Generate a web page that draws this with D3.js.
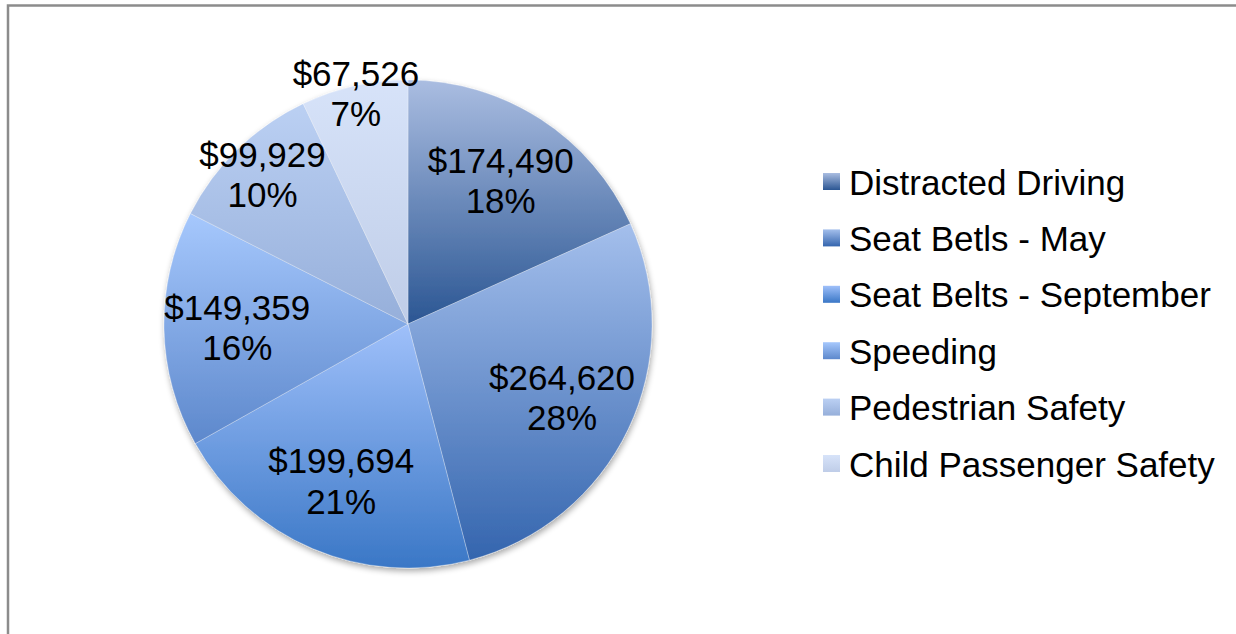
<!DOCTYPE html>
<html><head><meta charset="utf-8">
<script src="https://cdn.jsdelivr.net/npm/d3@7"></script>
<style>html,body{margin:0;padding:0;background:#fff;}svg{display:block;}</style>
</head><body>
<svg id="c" width="1236" height="634"></svg>
<script>
const categories = ["Distracted Driving","Seat Betls - May","Seat Belts - September","Speeding","Pedestrian Safety","Child Passenger Safety"];
const values = [174490, 264620, 199694, 149359, 99929, 67526];
const percentLabels = ["18%","28%","21%","16%","10%","7%"];
const topColors = ["#aabde1","#a4bfec","#9fc0fa","#a6c8fd","#bbd0f3","#d7e3f9"];
const bottomColors = ["#2b5693","#3465ae","#3a77c6","#5d88cc","#96afda","#bfcde8"];

const svg = d3.select("#c");
const cx = 408, cy = 324, R = 244;
const fontFam = "'Liberation Sans', Arial, sans-serif";

// border
svg.append("path").attr("d", `M8,634 L8,5.5 L1236,5.5`).attr("fill","none").attr("stroke","#8c8c8c").attr("stroke-width",2.5);

const defs = svg.append("defs");
const shadow = defs.append("filter").attr("id","sh").attr("x","-10%").attr("y","-10%").attr("width","120%").attr("height","125%");
shadow.append("feGaussianBlur").attr("in","SourceAlpha").attr("stdDeviation",3).attr("result","b");
shadow.append("feOffset").attr("in","b").attr("dx",1).attr("dy",3).attr("result","o");
shadow.append("feComponentTransfer").attr("in","o").attr("result","o2").append("feFuncA").attr("type","linear").attr("slope",0.35);
const m = shadow.append("feMerge"); m.append("feMergeNode").attr("in","o2"); m.append("feMergeNode").attr("in","SourceGraphic");

categories.forEach((c,i)=>{
  const g = defs.append("linearGradient").attr("id","g"+i).attr("x1",0).attr("y1",0).attr("x2",0).attr("y2",1);
  g.append("stop").attr("offset","0%").attr("stop-color",topColors[i]);
  g.append("stop").attr("offset","100%").attr("stop-color",bottomColors[i]);
});

const pie = d3.pie().sort(null).value(d=>d);
const arcs = pie(values);
const arc = d3.arc().innerRadius(0).outerRadius(R);
const total = d3.sum(values);

const pg = svg.append("g").attr("transform",`translate(${cx},${cy})`);
const slices = pg.append("g").attr("filter","url(#sh)");
slices.selectAll("path").data(arcs).join("path")
  .attr("d", arc)
  .attr("fill",(d,i)=>`url(#g${i})`)
  .attr("stroke","rgba(255,255,255,0.35)").attr("stroke-width",0.8);

const fmt = d3.format("$,");
const lab = pg.append("g").attr("font-family",fontFam).attr("font-size",35).attr("fill","#000").attr("text-anchor","middle");
arcs.forEach((d,i)=>{
  const frac = values[i]/total;
  const lr = R * (frac >= 0.15 ? 0.7 : 0.7 + (0.15 - frac)*3.4);
  const a = (d.startAngle + d.endAngle)/2;
  const x = Math.sin(a)*lr, y = -Math.cos(a)*lr;
  const t = lab.append("text").attr("x",x).attr("y",y);
  t.append("tspan").attr("x",x).attr("dy","-0.22em").text(fmt(values[i]));
  t.append("tspan").attr("x",x).attr("dy","1.15em").text(percentLabels[i]);
});

// legend
const leg = svg.append("g").attr("font-family",fontFam).attr("font-size",35);
categories.forEach((c,i)=>{
  const y = 182 + i*56.4;
  leg.append("rect").attr("x",823).attr("y",y-9).attr("width",17).attr("height",17).attr("fill",`url(#g${i})`);
  leg.append("text").attr("x",849).attr("y",y+12.5).attr("fill","#000").text(c);
});
</script>
</body></html>
